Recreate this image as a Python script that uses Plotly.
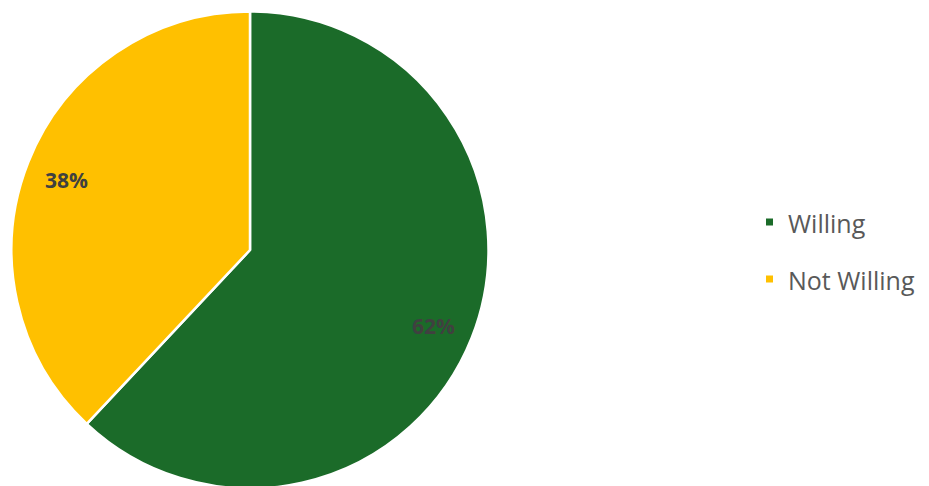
import math
import plotly.graph_objects as go

labels = ["Willing", "Not Willing"]
values = [62, 38]
colors = ["#1b6b29", "#ffc000"]

W, H = 929, 486
OFF = 8  # page body margin
cx_px, cy_px, R_px = 250 - OFF, 250 - OFF, 238.5

fig = go.Figure(go.Pie(
    labels=labels, values=values, sort=False, direction="clockwise", rotation=0,
    marker=dict(colors=colors, line=dict(color="white", width=2.5)),
    textinfo="none", hoverinfo="label+percent", showlegend=False,
    domain=dict(x=[(cx_px - R_px) / W, (cx_px + R_px) / W],
                y=[1 - (cy_px + R_px) / H, 1 - (cy_px - R_px) / H]),
))

total = sum(values)
ann = []
start = 0.0
for lab, v in zip(labels, values):
    mid = (start + v / 2) / total * 2 * math.pi
    start += v
    r = 0.835 * 237
    px = cx_px + r * math.sin(mid)
    py = cy_px - r * math.cos(mid) + 3
    ann.append(dict(x=px / W, y=1 - py / H, xref="paper", yref="paper",
                    xanchor="center", yanchor="middle",
                    text=f"<b>{round(v / total * 100)}%</b>", showarrow=False,
                    font=dict(family="Open Sans, sans-serif", size=21, color="#404040")))

shapes = []
marker_y = [222 - OFF, 279 - OFF]
text_y = [223 - OFF, 280 - OFF]
for i, (lab, col) in enumerate(zip(labels, colors)):
    y = marker_y[i]
    shapes.append(dict(type="rect", xref="paper", yref="paper",
                       x0=(766 - OFF) / W, x1=(773 - OFF) / W,
                       y0=1 - (y + 3.5) / H, y1=1 - (y - 3.5) / H,
                       fillcolor=col, line=dict(width=0)))
    ann.append(dict(x=(786 - OFF) / W, y=1 - text_y[i] / H, xref="paper", yref="paper",
                    xanchor="left", yanchor="middle",
                    text=lab, showarrow=False,
                    font=dict(family="Open Sans, sans-serif", size=25, color="#595959")))

fig.update_layout(width=W, height=H, margin=dict(l=0, r=0, t=0, b=0),
                  paper_bgcolor="white", plot_bgcolor="white",
                  annotations=ann, shapes=shapes)
fig.write_html("out.html")
